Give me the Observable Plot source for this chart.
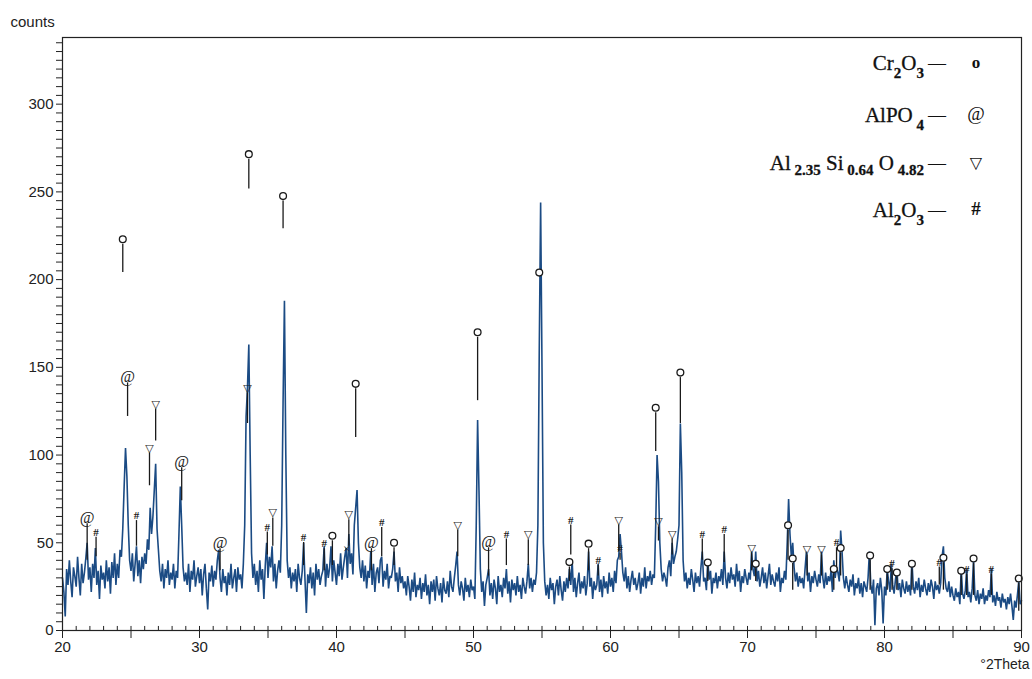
<!DOCTYPE html>
<html>
<head>
<meta charset="utf-8">
<script src="https://cdn.jsdelivr.net/npm/d3@7"></script>
<script src="https://cdn.jsdelivr.net/npm/@observablehq/plot@0.6"></script>
<style>
  html, body { margin: 0; padding: 0; background: #ffffff; }
  #chart { width: 1032px; height: 679px; }
</style>
</head>
<body>
<div id="chart"></div>
<script>
// ---------- DATA ----------
// XRD scan: counts from 20.0 to 90.0 °2Theta in steps of 0.1 (one row per degree)
const scanStart = 20;
const scanStep = 0.1;
const counts = [
  30, 22, 8, 35, 26, 40, 28, 19, 36, 31,      // 20
  25, 42, 30, 20, 38, 27, 33, 41, 50, 29,     // 21
  36, 22, 38, 30, 47, 26, 34, 18, 37, 29,     // 22
  33, 24, 40, 28, 36, 21, 39, 30, 44, 26,     // 23
  38, 30, 46, 42, 58, 82, 104, 88, 60, 40,    // 24
  34, 44, 28, 38, 48, 31, 40, 27, 42, 35,     // 25
  44, 38, 52, 46, 70, 55, 65, 80, 95, 58,     // 26
  46, 34, 28, 38, 24, 35, 30, 40, 26, 33,     // 27
  29, 38, 24, 34, 30, 55, 82, 60, 36, 28,     // 28
  33, 26, 38, 22, 34, 29, 40, 25, 31, 36,     // 29
  27, 35, 20, 32, 38, 24, 12, 33, 28, 37,     // 30
  25, 34, 29, 40, 46, 30, 22, 35, 27, 31,     // 31
  20, 33, 26, 38, 24, 30, 35, 22, 36, 29,     // 32
  32, 24, 38, 60, 122, 138, 163, 100, 44, 30, // 33
  38, 26, 34, 22, 40, 29, 35, 18, 37, 50,     // 34
  30, 42, 36, 48, 28, 38, 24, 34, 40, 33,     // 35
  60, 130, 188, 100, 40, 30, 36, 24, 33, 28,  // 36
  35, 22, 38, 30, 26, 34, 50, 29, 10, 32,     // 37
  27, 36, 24, 33, 20, 38, 29, 35, 26, 31,     // 38
  34, 48, 25, 38, 30, 36, 48, 28, 40, 33,     // 39
  26, 38, 31, 44, 29, 36, 42, 47, 30, 55,     // 40
  38, 44, 32, 60, 70, 80, 50, 36, 30, 40,     // 41
  28, 37, 24, 34, 30, 45, 26, 38, 22, 33,     // 42
  36, 27, 40, 42, 25, 34, 29, 38, 24, 31,     // 43
  30, 35, 45, 28, 33, 22, 36, 27, 31, 24,     // 44
  28, 20, 31, 25, 17, 29, 22, 33, 19, 26,     // 45
  23, 30, 18, 27, 22, 32, 20, 26, 15, 28,     // 46
  22, 29, 17, 31, 24, 20, 27, 16, 30, 23,     // 47
  21, 28, 19, 34, 25, 22, 30, 37, 45, 26,     // 48
  20, 28, 24, 17, 30, 22, 26, 19, 29, 23,     // 49
  25, 18, 60, 120, 80, 35, 22, 28, 14, 26,    // 50
  30, 35, 20, 27, 18, 29, 24, 15, 31, 22,     // 51
  26, 19, 30, 24, 35, 21, 28, 16, 29, 23,     // 52
  27, 20, 31, 22, 26, 18, 30, 25, 21, 28,     // 53
  38, 24, 30, 22, 29, 26, 33, 60, 160, 244,   // 54
  150, 50, 28, 20, 26, 18, 30, 23, 27, 15,    // 55
  25, 29, 20, 31, 23, 17, 28, 22, 30, 24,     // 56
  35, 26, 40, 22, 30, 19, 27, 33, 21, 28,     // 57
  24, 31, 20, 27, 45, 25, 30, 18, 28, 23,     // 58
  26, 38, 22, 29, 19, 31, 24, 28, 21, 33,     // 59
  25, 30, 22, 34, 27, 40, 42, 55, 45, 33,     // 60
  28, 36, 24, 31, 22, 29, 34, 26, 30, 23,     // 61
  27, 33, 21, 30, 25, 36, 24, 31, 28, 34,     // 62
  26, 32, 30, 60, 100, 85, 50, 35, 28, 33,    // 63
  30, 25, 36, 40, 31, 50, 38, 42, 45, 52,     // 64
  60, 118, 90, 40, 28, 33, 24, 30, 26, 35,    // 65
  29, 22, 33, 27, 31, 25, 36, 45, 28, 30,     // 66
  23, 40, 29, 34, 21, 30, 27, 33, 24, 31,     // 67
  28, 35, 26, 45, 30, 24, 33, 27, 36, 29,     // 68
  32, 25, 38, 28, 34, 22, 31, 27, 35, 30,     // 69
  26, 33, 29, 45, 35, 31, 45, 28, 34, 25,     // 70
  30, 36, 27, 33, 24, 31, 38, 26, 32, 28,     // 71
  25, 33, 28, 36, 22, 30, 27, 34, 29, 50,     // 72
  75, 55, 42, 50, 36, 28, 33, 25, 31, 27,     // 73
  30, 24, 35, 45, 28, 33, 22, 31, 27, 34,     // 74
  29, 25, 32, 27, 45, 30, 24, 33, 26, 31,     // 75
  28, 34, 22, 40, 30, 36, 33, 28, 57, 45,     // 76
  30, 24, 31, 26, 22, 29, 25, 32, 20, 27,     // 77
  24, 30, 21, 27, 19, 28, 25, 22, 30, 45,     // 78
  26, 21, 29, 3, 24, 27, 20, 30, 23, 4,       // 79
  25, 20, 35, 28, 22, 38, 26, 21, 29, 35,     // 80
  23, 27, 19, 29, 24, 21, 28, 22, 26, 20,     // 81
  40, 25, 21, 28, 23, 30, 19, 26, 22, 29,     // 82
  24, 20, 27, 22, 29, 25, 18, 28, 23, 26,     // 83
  21, 27, 42, 48, 30, 24, 22, 28, 19, 25,     // 84
  20, 17, 24, 19, 22, 15, 35, 21, 18, 23,     // 85
  35, 19, 22, 16, 24, 40, 20, 17, 23, 15,     // 86
  21, 18, 24, 15, 20, 17, 23, 19, 35, 16,     // 87
  20, 14, 22, 17, 19, 13, 21, 16, 18, 12,     // 88
  19, 15, 21, 14, 6, 17, 13, 20, 28, 15,      // 89
  17                                          // 90
];

// Peak identification marks: position, phase symbol, symbol level, stick foot (counts)
const markX    = [21.8, 22.45, 24.4, 24.75, 25.4, 26.35, 26.8, 28.7, 31.5, 33.5, 33.6, 34.95, 35.35, 36.1, 37.6, 39.1, 39.7, 40.9, 40.75, 41.4, 42.55, 43.3, 44.2, 48.85, 50.3, 51.1, 52.4, 54.0, 54.8, 57.0, 57.1, 58.4, 59.1, 60.6, 60.7, 63.3, 63.5, 64.5, 65.1, 66.7, 67.1, 68.3, 70.3, 70.6, 72.96, 73.3, 74.35, 75.4, 76.3, 76.5, 76.8, 78.95, 80.2, 80.55, 80.9, 82.0, 84.0, 84.3, 85.6, 86.0, 86.5, 87.8, 89.8];
const markSym  = ["@", "#", "o", "@", "#", "▽", "▽", "@", "@", "▽", "o", "#", "▽", "o", "#", "#", "o", "▽", "×", "o", "@", "#", "o", "▽", "o", "@", "#", "▽", "o", "o", "#", "o", "#", "▽", "#", "o", "▽", "▽", "o", "#", "o", "#", "▽", "o", "o", "o", "▽", "▽", "o", "#", "o", "o", "o", "#", "o", "o", "#", "o", "o", "#", "o", "#", "o"];
const markTop  = [63.7, 56, 223, 144, 65.5, 104, 129, 95.6, 49.5, 138, 271.5, 59, 67, 247.6, 53, 49.5, 54, 66, 46.7, 140.6, 49.5, 61.5, 50, 60, 170, 50, 55, 54.6, 204, 39, 63, 49.5, 40, 63, 47, 127, 62, 55, 147, 55, 38.7, 57.5, 46.7, 38, 60, 41, 46, 46, 35, 50, 47, 42.7, 35, 38, 33, 38, 39, 41.5, 34, 35, 41, 35, 29.6];
const markFoot = [40, 42, 204, 122, 48, 82.5, 108, 74, 34, 118, 251.6, 43, 48, 229, 37, 34, 37, 48, null, 110, 34, 42, 37, 42, 131, 31, 37, 37, null, 28, 43, 34, 31, 45, 40, 102, 51, 43, 118, 40, 28, 38.7, 34, 28, 40, 23, 31, 31, 23, 34, 31, 23, 23, 23, 23, 23, 26, 23, 20, 20, 20, 20, 11];

// Axis ticks and labels
const xLabels = [20, 30, 40, 50, 60, 70, 80, 90];
const xMajorTicks = d3.range(20, 90.001, 5);
const xMinorTicks = d3.range(20, 90.001, 1);
const yLabels = [0, 50, 100, 150, 200, 250, 300];
const yTicks = d3.range(0, 336, 5);

// Legend: phases with formula pieces [text, isSubscript]
const legendSymbols = ["o", "@", "▽", "#"];
const legendFormulas = [
  [["Cr", 0], ["2", 1], ["O", 0], ["3", 1]],
  [["AlPO", 0], [" 4", 1]],
  [["Al", 0], [" 2.35", 1], [" Si", 0], [" 0.64", 1], [" O", 0], [" 4.82", 1]],
  [["Al", 0], ["2", 1], ["O", 0], ["3", 1]]
];

// ---------- BUILD ----------
const trace = counts.map((c, i) => ({x: scanStart + i * scanStep, y: c}));
const marks = markX.map((x, i) => ({x, sym: markSym[i], top: markTop[i], foot: markFoot[i]}));

const serif = "'Liberation Serif', 'Times New Roman', serif";
const ink = "#1a1a1a";

const chart = Plot.plot({
  width: 1032,
  height: 679,
  marginLeft: 62,
  marginRight: 11,
  marginTop: 37,
  marginBottom: 49,
  style: {fontFamily: "'Liberation Sans', Arial, sans-serif", fontSize: "15px", color: "#222", background: "#ffffff"},
  x: {domain: [20, 90], label: null},
  y: {domain: [0, 338], label: null},
  marks: [
    Plot.line(trace, {x: "x", y: "y", stroke: "#1b4b84", strokeWidth: 1.6, strokeLinejoin: "miter"}),
    Plot.ruleX(marks.filter(d => d.foot != null), {x: "x", y1: "top", y2: "foot", insetTop: 5, stroke: ink, strokeWidth: 1.3}),
    Plot.dot(marks.filter(d => d.sym === "o"), {x: "x", y: "top", r: 3.4, stroke: ink, strokeWidth: 1.3, fill: "#ffffff"}),
    Plot.text(marks.filter(d => d.sym === "@"), {x: "x", y: "top", text: "sym", fontSize: 16, fontFamily: serif, fill: ink, dy: -1}),
    Plot.text(marks.filter(d => d.sym === "▽"), {x: "x", y: "top", text: "sym", fontSize: 11, fontFamily: "'DejaVu Sans', sans-serif", fill: ink}),
    Plot.text(marks.filter(d => d.sym === "#"), {x: "x", y: "top", text: "sym", fontSize: 11, fontWeight: "bold", fontFamily: serif, fill: ink}),
    Plot.text(marks.filter(d => d.sym === "×"), {x: "x", y: "top", text: "sym", fontSize: 13, fontFamily: serif, fill: ink}),
    Plot.ruleX(xMinorTicks, {x: d => d, y1: 2.3, y2: 0, stroke: "#222"}),
    Plot.axisX({ticks: xMajorTicks, tickSize: 8, tickPadding: 3, tickFormat: d => xLabels.includes(d) ? String(d) : "", stroke: "#222"}),
    Plot.axisY({ticks: yTicks, tickSize: 6, tickPadding: 3, tickFormat: d => yLabels.includes(d) ? String(d) : "", stroke: "#222"}),
    Plot.frame({stroke: "#222", strokeWidth: 1.2}),
    Plot.text(["counts"], {frameAnchor: "top-left", text: d => d, textAnchor: "start", dx: -52, dy: -21, fontSize: 15, fill: "#222"}),
    Plot.text(["°2Theta"], {frameAnchor: "bottom-right", text: d => d, textAnchor: "end", dx: 8, dy: 38, fontSize: 14, fill: "#222"})
  ]
});

document.getElementById("chart").appendChild(chart);

// Legend inside the plot area (upper right), formulas with subscripts
const svg = d3.select(chart);
const lg = svg.append("g").attr("font-family", serif).attr("fill", "#111");
const rowBase = [70, 122, 170, 217];
const subDrop = [8, 8, 5, 8];
legendFormulas.forEach((parts, r) => {
  const t = lg.append("text")
    .attr("x", 924).attr("y", rowBase[r])
    .attr("text-anchor", "end")
    .attr("font-size", 21)
    .attr("stroke", "#111").attr("stroke-width", 0.3);
  let sub = false;
  parts.forEach(([s, isSub]) => {
    const ts = t.append("tspan").text(s);
    if (isSub && !sub) { ts.attr("dy", subDrop[r]).attr("font-size", 15).attr("font-weight", "bold"); sub = true; }
    else if (isSub && sub) { ts.attr("font-size", 15).attr("font-weight", "bold"); }
    else if (!isSub && sub) { ts.attr("dy", -subDrop[r]); sub = false; }
  });
  lg.append("text").attr("x", 937).attr("y", rowBase[r] - 1).attr("text-anchor", "middle")
    .attr("font-size", 18).text("—");
  const sym = legendSymbols[r];
  lg.append("text").attr("x", 976).attr("y", rowBase[r] - 2).attr("text-anchor", "middle")
    .attr("font-size", sym === "o" ? 17 : sym === "▽" ? 16 : 19)
    .attr("font-weight", sym === "o" || sym === "#" ? "bold" : "normal")
    .attr("font-family", sym === "▽" ? "'DejaVu Sans', sans-serif" : serif)
    .text(sym);
});
</script>
</body>
</html>
